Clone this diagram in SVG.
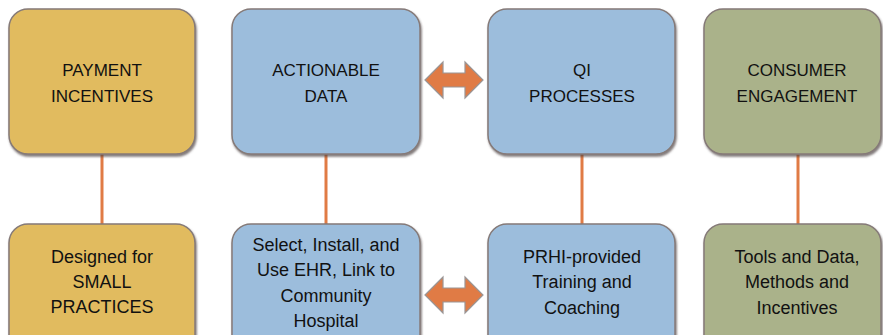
<svg xmlns="http://www.w3.org/2000/svg" width="883" height="335" viewBox="0 0 883 335">
  <defs>
    <filter id="bevel" x="-10%" y="-10%" width="120%" height="120%">
      <feGaussianBlur in="SourceAlpha" stdDeviation="1.2" result="b"/>
      <feOffset in="b" dx="1" dy="1.5" result="o"/>
      <feFlood flood-color="#4a4040" flood-opacity="0.7"/>
      <feComposite in2="o" operator="in" result="s"/>
      <feMerge>
        <feMergeNode in="s"/>
        <feMergeNode in="SourceGraphic"/>
      </feMerge>
    </filter>
  </defs>
  <style>
    .box { stroke: #857a78; stroke-width: 1.5; filter: url(#bevel); }
    .yellow { fill: #E1BB5E; }
    .blue { fill: #9CBDDC; }
    .green { fill: #AAB28A; }
    .conn { stroke: #E07B45; stroke-width: 3; fill: none; }
    .arrow { fill: #E07B45; stroke: #9a9595; stroke-width: 1.2; }
    .t { font-family: "Liberation Sans", Arial, sans-serif; fill: #111; text-anchor: middle; }
    .top { font-size: 17px; }
    .bot { font-size: 18px; }
  </style>
  <rect width="883" height="335" fill="#ffffff"/>

  <g id="connectors">
    <line class="conn" x1="102" y1="154" x2="102" y2="224"/>
    <line class="conn" x1="326" y1="154" x2="326" y2="224"/>
    <line class="conn" x1="582" y1="154" x2="582" y2="224"/>
    <line class="conn" x1="798" y1="154" x2="798" y2="224"/>
    <polygon class="arrow" points="425,80 443,62 443,73 465,73 465,62 483,80 465,98 465,87 443,87 443,98"/>
    <polygon class="arrow" points="425,295 443,277 443,288 465,288 465,277 483,295 465,313 465,302 443,302 443,313"/>
  </g>

  <g id="payment-incentives">
    <rect class="box yellow" x="9" y="9" width="186" height="145" rx="19"/>
    <text class="t top" x="102" y="76">PAYMENT</text>
    <text class="t top" x="102" y="102">INCENTIVES</text>
  </g>
  <g id="actionable-data">
    <rect class="box blue" x="232" y="9" width="188" height="145" rx="19"/>
    <text class="t top" x="326" y="76">ACTIONABLE</text>
    <text class="t top" x="326" y="102">DATA</text>
  </g>
  <g id="qi-processes">
    <rect class="box blue" x="488" y="9" width="187" height="145" rx="19"/>
    <text class="t top" x="582" y="76">QI</text>
    <text class="t top" x="582" y="102">PROCESSES</text>
  </g>
  <g id="consumer-engagement">
    <rect class="box green" x="704" y="9" width="177" height="145" rx="19"/>
    <text class="t top" x="797" y="76">CONSUMER</text>
    <text class="t top" x="797" y="102">ENGAGEMENT</text>
  </g>

  <g id="small-practices">
    <rect class="box yellow" x="9" y="224" width="186" height="130" rx="19"/>
    <text class="t bot" x="102" y="263">Designed for</text>
    <text class="t bot" x="102" y="288">SMALL</text>
    <text class="t bot" x="102" y="313">PRACTICES</text>
  </g>
  <g id="ehr">
    <rect class="box blue" x="232" y="224" width="188" height="130" rx="19"/>
    <text class="t bot" x="326" y="251">Select, Install, and</text>
    <text class="t bot" x="326" y="276">Use EHR, Link to</text>
    <text class="t bot" x="326" y="302">Community</text>
    <text class="t bot" x="326" y="327">Hospital</text>
  </g>
  <g id="training">
    <rect class="box blue" x="488" y="224" width="187" height="130" rx="19"/>
    <text class="t bot" x="582" y="263">PRHI-provided</text>
    <text class="t bot" x="582" y="288">Training and</text>
    <text class="t bot" x="582" y="314">Coaching</text>
  </g>
  <g id="tools">
    <rect class="box green" x="704" y="224" width="177" height="130" rx="19"/>
    <text class="t bot" x="797" y="263">Tools and Data,</text>
    <text class="t bot" x="797" y="288">Methods and</text>
    <text class="t bot" x="797" y="314">Incentives</text>
  </g>
</svg>
